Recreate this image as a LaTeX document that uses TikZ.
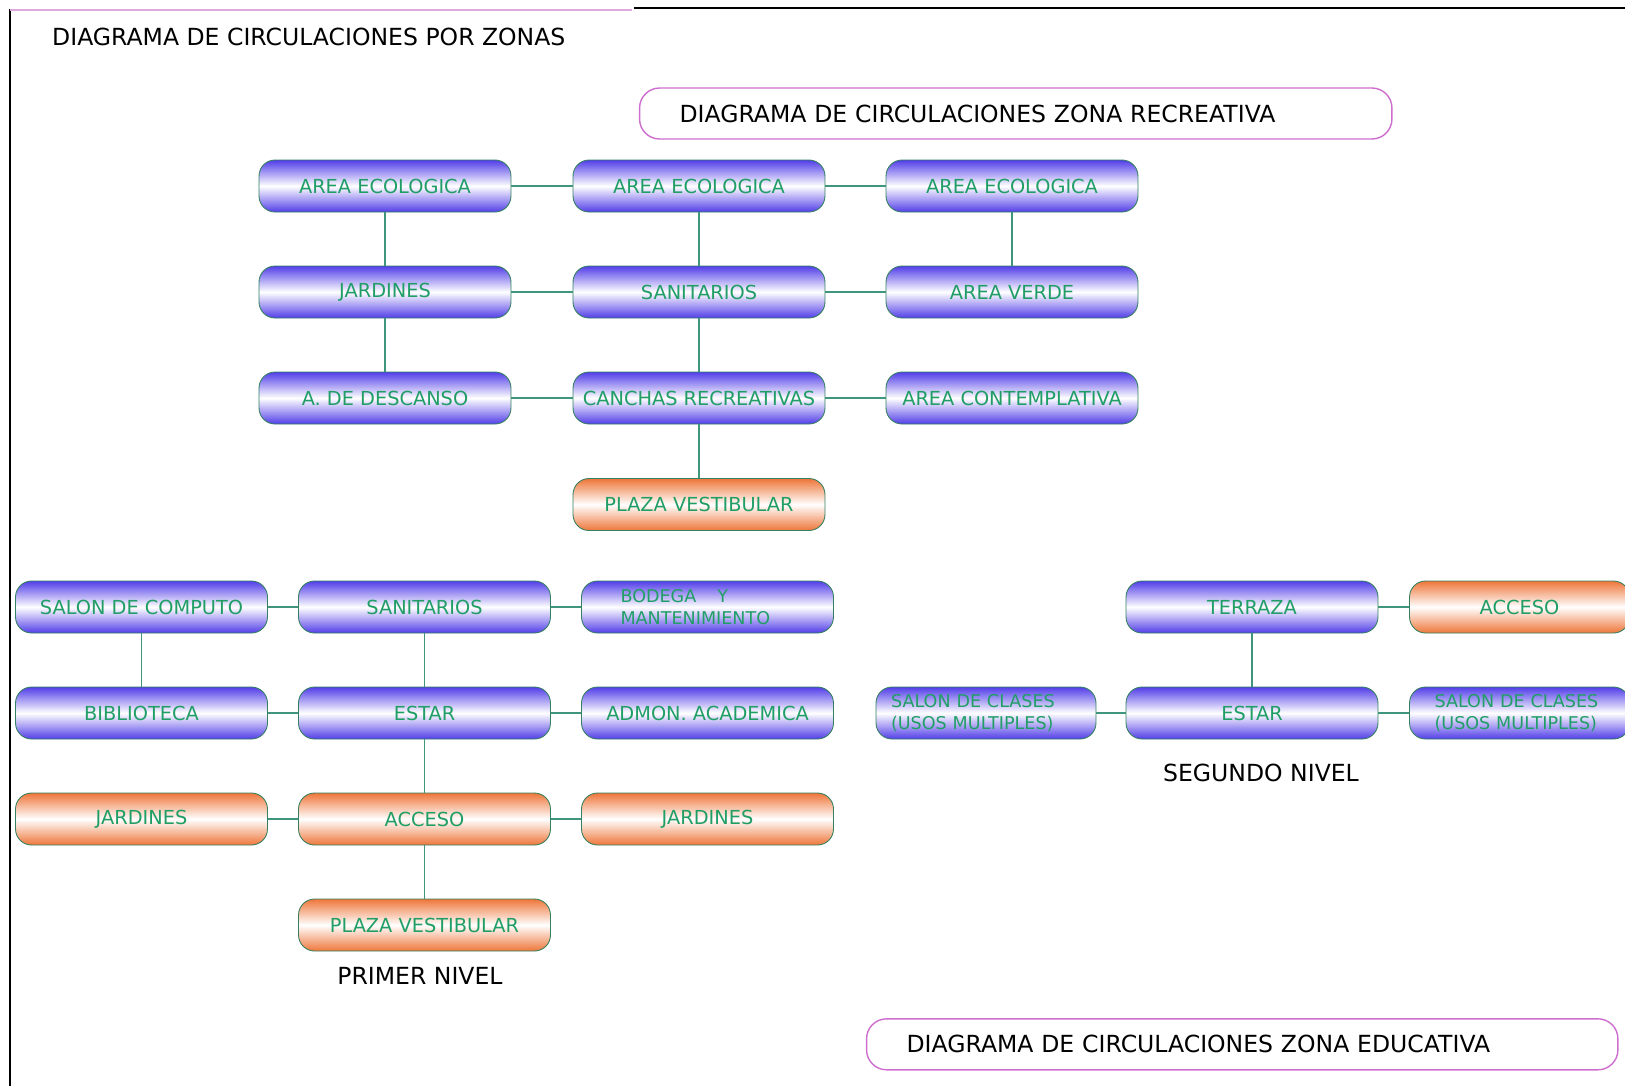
\documentclass[tikz,border=0pt]{standalone}
\usepackage{fontspec}
\setmainfont{DejaVu Sans}
\definecolor{zonablue}{RGB}{82,62,232}
\definecolor{zonaorange}{RGB}{238,118,58}
\definecolor{txtgreen}{RGB}{32,158,102}
\definecolor{bordegreen}{RGB}{52,128,96}
\definecolor{lineagreen}{RGB}{64,150,124}
\definecolor{titlepink}{RGB}{206,110,206}
\definecolor{framepink}{RGB}{222,170,222}

\begin{document}
\begin{tikzpicture}[
    x=0.02cm, y=-0.02cm,
    every node/.style={font=\fontsize{11}{13}\selectfont},
    zona/.style={draw=bordegreen, line width=0.5pt, rounded corners=0.32cm,
        minimum width=5.04cm, minimum height=1.04cm, inner sep=0pt, text=txtgreen,
        top color=zonablue, bottom color=zonablue, middle color=white},
    zonaor/.style={zona, top color=zonaorange, bottom color=zonaorange, middle color=white},
    corta/.style={minimum width=4.4cm},
    doble/.style={align=left, font=\fontsize{10}{12.5}\selectfont},
    enlace/.style={draw=lineagreen, line width=0.7pt},
    marco/.style={draw=titlepink, line width=0.8pt, rounded corners=0.4cm, fill=white,
        minimum height=1.02cm, inner xsep=0.8cm, align=left, font=\fontsize{13.4}{16}\selectfont},
    rotulo/.style={font=\fontsize{13.4}{16}\selectfont}
]
\useasboundingbox (0,0) rectangle (1625,1086);

% marco de la hoja
\draw[line width=1.4pt] (10,9) -- (10,1086);
\draw[framepink, line width=1pt] (10,10) -- (632,10);
\draw[line width=1.2pt] (634,8) -- (1625,8);

% titulos
\node[rotulo, anchor=west] (tzonas) at (46,37) {DIAGRAMA DE CIRCULACIONES POR ZONAS};
\node[marco, text width=13.45cm] (trec) at (1015.75,113.5) {DIAGRAMA DE CIRCULACIONES ZONA RECREATIVA};
\node[marco, text width=13.43cm] (tedu) at (1242.25,1044.3) {DIAGRAMA DE CIRCULACIONES ZONA EDUCATIVA};

% zona recreativa
\node[zona] (ae1) at (385,186) {AREA ECOLOGICA};
\node[zona] (ae2) at (699,186) {AREA ECOLOGICA};
\node[zona] (ae3) at (1012,186) {AREA ECOLOGICA};
\node[zona] (jar) at (385,292) {JARDINES};
\node[zona] (san) at (699,292) {SANITARIOS};
\node[zona] (ver) at (1012,292) {AREA VERDE};
\node[zona] (des) at (385,398) {A. DE DESCANSO};
\node[zona] (can) at (699,398) {CANCHAS RECREATIVAS};
\node[zona] (con) at (1012,398) {AREA CONTEMPLATIVA};
\node[zonaor] (pla) at (699,504.5) {PLAZA VESTIBULAR};

\draw[enlace] (ae1) -- (ae2);
\draw[enlace] (ae2) -- (ae3);
\draw[enlace] (ae1) -- (jar);
\draw[enlace] (ae2) -- (san);
\draw[enlace] (ae3) -- (ver);
\draw[enlace] (jar) -- (san);
\draw[enlace] (san) -- (ver);
\draw[enlace] (jar) -- (des);
\draw[enlace] (san) -- (can);
\draw[enlace] (des) -- (can);
\draw[enlace] (can) -- (con);
\draw[enlace] (can) -- (pla);

% zona educativa, primer nivel
\node[zona] (com) at (141.5,607) {SALON DE COMPUTO};
\node[zona] (san1) at (424.5,607) {SANITARIOS};
\node[zona, doble, text width=3.48cm] (bod) at (707.5,607) {BODEGA\hspace{1.2em}Y\\MANTENIMIENTO};
\node[zona] (bib) at (141.5,713) {BIBLIOTECA};
\node[zona] (est1) at (424.5,713) {ESTAR};
\node[zona] (adm) at (707.5,713) {ADMON. ACADEMICA};
\node[zonaor] (jar1) at (141.5,819) {JARDINES};
\node[zonaor] (acc1) at (424.5,819) {ACCESO};
\node[zonaor] (jar2) at (707.5,819) {JARDINES};
\node[zonaor] (pla1) at (424.5,925) {PLAZA VESTIBULAR};
\node[rotulo] (niv1) at (420,976) {PRIMER NIVEL};

\draw[enlace] (com) -- (san1);
\draw[enlace] (san1) -- (bod);
\draw[enlace] (com) -- (bib);
\draw[enlace] (san1) -- (est1);
\draw[enlace] (bib) -- (est1);
\draw[enlace] (est1) -- (adm);
\draw[enlace] (est1) -- (acc1);
\draw[enlace] (jar1) -- (acc1);
\draw[enlace] (acc1) -- (jar2);
\draw[enlace] (acc1) -- (pla1);

% zona educativa, segundo nivel
\node[zona] (ter) at (1252,607) {TERRAZA};
\node[zonaor, corta] (acc2) at (1519.5,607) {ACCESO};
\node[zona, corta, doble, text width=3.8cm] (sal1) at (986,713) {SALON DE CLASES\\(USOS MULTIPLES)};
\node[zona] (est2) at (1252,713) {ESTAR};
\node[zona, corta, doble, text width=3.4cm] (sal2) at (1519.5,713) {SALON DE CLASES\\(USOS MULTIPLES)};
\node[rotulo] (niv2) at (1261,773) {SEGUNDO NIVEL};

\draw[enlace] (ter) -- (acc2);
\draw[enlace] (ter) -- (est2);
\draw[enlace] (sal1) -- (est2);
\draw[enlace] (est2) -- (sal2);

\end{tikzpicture}
\end{document}
